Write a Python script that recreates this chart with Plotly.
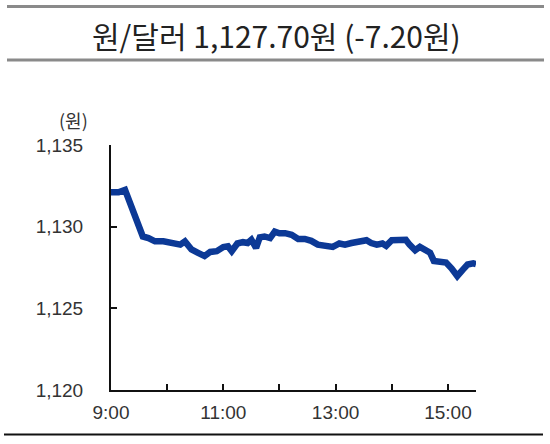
import plotly.graph_objects as go

times = ["09:00", "09:08", "09:15", "09:22", "09:29", "09:34", "09:40", "09:47", "09:56",
         "10:06", "10:14", "10:19", "10:26", "10:33", "10:40", "10:46", "10:53",
         "11:00", "11:05", "11:09", "11:15", "11:21", "11:26", "11:30", "11:35", "11:39",
         "11:44", "11:50", "11:55", "12:00", "12:06", "12:13", "12:20", "12:27", "12:34",
         "12:41", "12:48", "12:57", "13:04", "13:10", "13:17", "13:26", "13:33", "13:38",
         "13:44", "13:50", "13:54", "14:00", "14:07", "14:15", "14:19", "14:25", "14:30",
         "14:35", "14:41", "14:45", "14:51", "14:58", "15:04", "15:10", "15:16", "15:21",
         "15:27", "15:30"]
rates = [1132.1, 1132.1, 1132.25, 1131.2, 1130.2, 1129.4, 1129.3, 1129.1, 1129.1,
         1129.0, 1128.9, 1129.1, 1128.6, 1128.4, 1128.2, 1128.45, 1128.5,
         1128.75, 1128.8, 1128.5, 1128.97, 1129.05, 1129.0, 1129.2, 1128.7, 1129.35,
         1129.4, 1129.3, 1129.7, 1129.6, 1129.6, 1129.5, 1129.25, 1129.25, 1129.13,
         1128.9, 1128.85, 1128.76, 1128.97, 1128.9, 1129.0, 1129.1, 1129.17, 1129.0,
         1128.9, 1128.97, 1128.83, 1129.17, 1129.17, 1129.2, 1128.9, 1128.56, 1128.76,
         1128.6, 1128.4, 1127.9, 1127.84, 1127.8, 1127.44, 1126.98, 1127.37, 1127.68,
         1127.75, 1127.7]

hour_ticks = ["09:00", "10:00", "11:00", "12:00", "13:00", "14:00", "15:00"]
hour_labels = ["9:00", "", "11:00", "", "13:00", "", "15:00"]
y_ticks = [1120, 1125, 1130, 1135]

title_text = "원/달러 1,127.70원 (-7.20원)"
unit_text = "(원)"

day = "2024-01-02 "
x = [day + t for t in times]

fig = go.Figure()
fig.add_trace(go.Scatter(
    x=x, y=rates, mode="lines",
    line=dict(color="#0c3996", width=6.5, shape="linear"),
    hoverinfo="skip", showlegend=False,
))

font_main = "Liberation Sans, Noto Sans CJK KR, sans-serif"

fig.update_layout(
    width=550, height=444,
    margin=dict(l=111, r=74, t=145, b=54),
    paper_bgcolor="white", plot_bgcolor="white",
    font=dict(family=font_main, size=19, color="#333333"),
    xaxis=dict(
        type="date",
        range=[day + "09:00", day + "15:30"],
        tickvals=[day + t for t in hour_ticks],
        ticktext=hour_labels,
        ticks="inside", ticklen=6, tickwidth=2, tickcolor="#111111",
        showline=True, linecolor="#111111", linewidth=2,
        showgrid=False, zeroline=False,
        tickfont=dict(family=font_main, size=19, color="#333333"),
        ticklabelstandoff=4,
    ),
    yaxis=dict(
        range=[1120, 1135],
        tickvals=y_ticks,
        tickformat=",",
        ticks="inside", ticklen=6, tickwidth=2, tickcolor="#111111",
        showline=True, linecolor="#111111", linewidth=2,
        showgrid=False, zeroline=False,
        tickfont=dict(family=font_main, size=19, color="#333333"),
        ticklabelstandoff=22,
    ),
    annotations=[
        dict(text=title_text, xref="paper", yref="paper", x=(276 - 111) / 365, y=1 + (145 - 35) / 245,
             xanchor="center", yanchor="middle", showarrow=False,
             font=dict(family="Noto Sans CJK KR, sans-serif", size=30, color="#222222")),
        dict(text=unit_text, xref="paper", yref="paper", x=-(111 - 90) / 365, y=1 + (145 - 120) / 245,
             xanchor="right", yanchor="middle", showarrow=False,
             font=dict(family="Noto Sans CJK KR, sans-serif", size=18, color="#333333")),
    ],
    shapes=[
        dict(type="line", xref="paper", yref="paper",
             x0=(7 - 111) / 365, x1=(544 - 111) / 365, y0=1 + (145 - 6.5) / 245, y1=1 + (145 - 6.5) / 245,
             line=dict(color="#8a8a8a", width=3)),
        dict(type="line", xref="paper", yref="paper",
             x0=(7 - 111) / 365, x1=(544 - 111) / 365, y0=1 + (145 - 60) / 245, y1=1 + (145 - 60) / 245,
             line=dict(color="#8a8a8a", width=3)),
        dict(type="line", xref="paper", yref="paper",
             x0=(4 - 111) / 365, x1=(543 - 111) / 365, y0=-(434.5 - 390) / 245, y1=-(434.5 - 390) / 245,
             line=dict(color="#111111", width=2)),
    ],
)

fig.write_html("out.html", config={"displayModeBar": False},
               post_script="document.body.style.margin='0';")
